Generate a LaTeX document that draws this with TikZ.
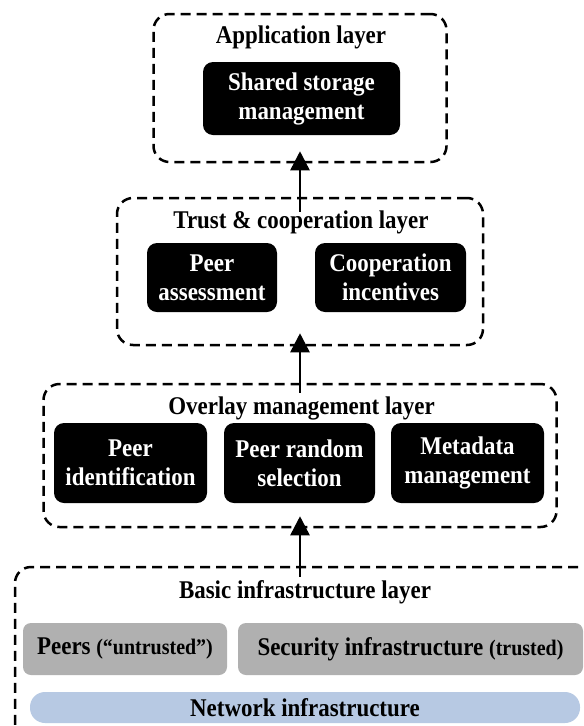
\documentclass[tikz,border=0pt]{standalone}
\usepackage{fontspec}
\setmainfont{Liberation Serif}[FakeStretch=0.9]
\usetikzlibrary{arrows.meta}
\definecolor{boxgray}{RGB}{176,176,176}
\definecolor{netblue}{RGB}{183,201,227}
\tikzset{
  layer/.style={draw=black, line width=2.5pt, dash pattern=on 10pt off 6pt,
    rounded corners=16pt, inner sep=0pt},
  title/.style={font=\fontsize{25.5}{29}\selectfont\bfseries, inner sep=0pt},
  blackbox/.style={fill=black, text=white, rounded corners=10pt, inner sep=0pt,
    align=center, font=\fontsize{25.5}{29}\selectfont\bfseries},
  graybox/.style={fill=boxgray, rounded corners=8pt, inner sep=0pt,
    font=\fontsize{25.5}{29}\selectfont\bfseries},
  netbar/.style={fill=netblue, rounded corners=15pt, inner sep=0pt,
    font=\fontsize{25.5}{29}\selectfont\bfseries},
  uparrow/.style={line width=2.5pt, -{Triangle[width=19pt,length=19pt]}},
}
\newcommand{\smalltxt}[1]{{\fontsize{22.2}{26}\selectfont #1}}
\begin{document}
\begin{tikzpicture}[x=1pt,y=-1pt]
\useasboundingbox (0,0) rectangle (584,726);
\fill[white] (0,0) rectangle (584,726);
\clip (0,0) rectangle (584,726);

% layer frames
\node[layer, minimum width=293pt, minimum height=148pt] (app) at (300,88) {};
\node[layer, minimum width=366pt, minimum height=147pt] (trust) at (300,271.5) {};
\node[layer, minimum width=513pt, minimum height=143pt] (overlay) at (300,455.5) {};
\node[layer, minimum width=595pt, minimum height=178pt] (basic) at (312.5,656) {};

% layer titles
\node[title] (apptitle) at (301,37) {Application layer};
\node[title] (trusttitle) at (301,222) {Trust \& cooperation layer};
\node[title] (overlaytitle) at (301.5,408) {Overlay management layer};
\node[title] (basictitle) at (305,592) {Basic infrastructure layer};

% application layer
\node[blackbox, minimum width=197pt, minimum height=73pt] (storage) at (301.5,98.5) {Shared storage\\management};

% trust & cooperation layer
\node[blackbox, minimum width=130pt, minimum height=69pt] (assess) at (212,277.5) {Peer\\assessment};
\node[blackbox, minimum width=151pt, minimum height=69pt] (incent) at (390.5,277.5) {Cooperation\\incentives};

% overlay management layer
\node[blackbox, minimum width=153pt, minimum height=80pt] (ident) at (130.5,463) {Peer\\identification};
\node[blackbox, minimum width=151pt, minimum height=80pt] (random) at (299.5,463) {Peer random\\selection};
\node[blackbox, minimum width=153pt, minimum height=80pt] (meta) at (467.5,463) {Metadata\\management};

% basic infrastructure layer
\node[graybox, minimum width=204pt, minimum height=52pt] (peers) at (125,649) {Peers \smalltxt{(“untrusted”)}};
\node[graybox, minimum width=345pt, minimum height=52pt] (security) at (410.5,649) {Security infrastructure \smalltxt{(trusted)}};
\node[netbar, minimum width=550pt, minimum height=31pt] (network) at (305,707.5) {Network infrastructure};

% connectors between layers
\draw[uparrow] ([yshift=-15pt]trust.north) -- ([yshift=12pt]app.south);
\draw[uparrow] ([yshift=-10pt]overlay.north) -- ([yshift=13pt]trust.south);
\draw[uparrow] ([yshift=-11pt]basic.north -| overlay.south) -- ([yshift=12pt]overlay.south);
\end{tikzpicture}
\end{document}
